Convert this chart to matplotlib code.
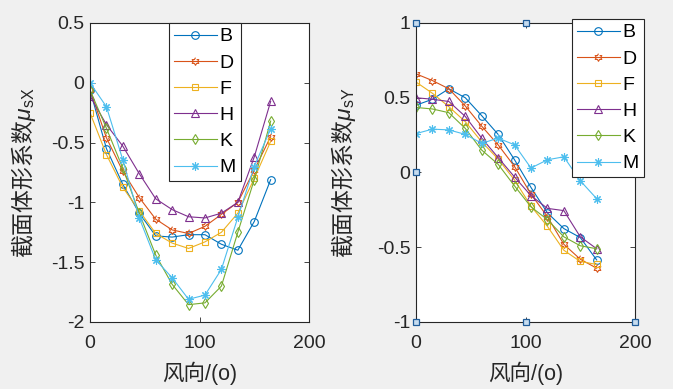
import matplotlib
matplotlib.use('Agg')
import matplotlib.pyplot as plt
import numpy as np

plt.rcParams['font.family'] = ['Liberation Sans', 'Noto Sans CJK SC']
plt.rcParams['mathtext.fontset'] = 'custom'
plt.rcParams['mathtext.rm'] = 'Noto Sans CJK SC'
plt.rcParams['mathtext.sf'] = 'Liberation Sans'
plt.rcParams['mathtext.it'] = 'Liberation Sans:italic'

# wind direction (deg)
angles = [0, 15, 30, 45, 60, 75, 90, 105, 120, 135, 150, 165]
names = ['B', 'D', 'F', 'H', 'K', 'M']

mu_x = {
    'B': [-0.06, -0.55, -0.85, -1.09, -1.28, -1.29, -1.27, -1.27, -1.35, -1.40, -1.16, -0.81],
    'D': [-0.06, -0.46, -0.74, -0.96, -1.14, -1.23, -1.26, -1.20, -1.10, -1.00, -0.73, -0.45],
    'F': [-0.25, -0.60, -0.875, -1.07, -1.26, -1.34, -1.385, -1.33, -1.25, -1.09, -0.80, -0.49],
    'H': [-0.11, -0.35, -0.53, -0.76, -0.97, -1.06, -1.12, -1.13, -1.09, -1.00, -0.62, -0.155],
    'K': [-0.06, -0.38, -0.715, -1.09, -1.44, -1.685, -1.855, -1.84, -1.70, -1.25, -0.81, -0.32],
    'M': [0.00, -0.20, -0.645, -1.13, -1.48, -1.63, -1.81, -1.775, -1.56, -1.125, -0.70, -0.385],
}
mu_y = {
    'B': [0.45, 0.49, 0.56, 0.50, 0.38, 0.255, 0.085, -0.10, -0.27, -0.375, -0.435, -0.585],
    'D': [0.66, 0.615, 0.56, 0.445, 0.31, 0.185, 0.04, -0.145, -0.295, -0.48, -0.58, -0.64],
    'F': [0.605, 0.53, 0.44, 0.34, 0.205, 0.09, -0.05, -0.225, -0.36, -0.52, -0.595, -0.615],
    'H': [0.50, 0.49, 0.475, 0.375, 0.23, 0.10, -0.03, -0.155, -0.24, -0.255, -0.43, -0.51],
    'K': [0.435, 0.425, 0.40, 0.295, 0.15, 0.055, -0.09, -0.23, -0.315, -0.43, -0.49, -0.51],
    'M': [0.26, 0.29, 0.285, 0.255, 0.195, 0.23, 0.185, 0.03, 0.085, 0.105, -0.055, -0.175],
}

# MATLAB-like hexagram marker
t = np.pi / 2 + np.arange(12) * np.pi / 6
r = np.where(np.arange(12) % 2 == 0, 1.0, 0.58)
hexagram = list(zip(r * np.cos(t), r * np.sin(t)))

colors = ['#0072BD', '#D95319', '#EDB120', '#7E2F8E', '#77AC30', '#4DBEEE']
markers = ['o', hexagram, 's', '^', 'd', (8, 2, 0)]
msizes = [5.5, 5.5, 4.2, 6, 5.2, 6]

BG = '#f0f0f0'
DARK = '#262626'

fig = plt.figure(figsize=(6.73, 3.89), dpi=100)
fig.patch.set_facecolor(BG)

ax1 = fig.add_axes([90/673, 1 - 322/389, 219/673, 299/389])
ax2 = fig.add_axes([416/673, 1 - 322/389, 219/673, 299/389])


def style(ax, yticks, ylim):
    ax.set_facecolor('white')
    ax.set_xlim(0, 200)
    ax.set_ylim(*ylim)
    ax.set_xticks([0, 100, 200])
    ax.set_yticks(yticks)
    ax.set_yticklabels([f'{t:g}' for t in yticks])
    ax.tick_params(direction='in', length=3.5, width=0.6, colors=DARK,
                   labelsize=14, top=True, right=True)
    ax.tick_params(axis='x', pad=9)
    ax.tick_params(axis='y', pad=4)
    for s in ax.spines.values():
        s.set_color(DARK)
        s.set_linewidth(0.8)


for ax, data in ((ax1, mu_x), (ax2, mu_y)):
    for n, c, m, ms in zip(names, colors, markers, msizes):
        ax.plot(angles, data[n], color=c, marker=m, markersize=ms,
                markerfacecolor='none', markeredgecolor=c,
                markeredgewidth=0.8, linewidth=0.8, label=n)

style(ax1, [-2, -1.5, -1, -0.5, 0, 0.5], (-2, 0.5))
style(ax2, [-1, -0.5, 0, 0.5, 1], (-1, 1))

for ax in (ax1, ax2):
    ax.set_xlabel('风向/(o)', fontsize=15.5, color=DARK, labelpad=7)
ax1.set_ylabel('截面体形系数$\\mu_{\\mathsf{sX}}$', fontsize=16.5, color=DARK,
               family='Noto Sans CJK SC')
ax2.set_ylabel('截面体形系数$\\mu_{\\mathsf{sY}}$', fontsize=16.5, color=DARK,
               family='Noto Sans CJK SC')
ax1.yaxis.set_label_coords(-(90 - 38) / 219, 0.5)
ax2.yaxis.set_label_coords(-(416 - 358) / 219, 0.5)

# selection handles on the right axes (MATLAB edit mode)
hx = [0, 0.5, 1, 0, 1, 0, 0.5, 1]
hy = [1, 1, 1, 0.5, 0.5, 0, 0, 0]
ax2.plot(hx, hy, linestyle='none', marker='s', markersize=5,
         markerfacecolor='#c6dcef', markeredgecolor='#1f5c99',
         markeredgewidth=0.9, transform=ax2.transAxes, clip_on=False, zorder=4)

leg_kw = dict(fontsize=14, handlelength=2.2, handletextpad=0.15,
              labelspacing=0.44, borderpad=0.25, borderaxespad=0,
              fancybox=False, framealpha=1, edgecolor=DARK,
              bbox_transform=fig.transFigure, loc='upper left')
l1 = ax1.legend(bbox_to_anchor=(169/673, 1 - 23/389), **leg_kw)
l2 = ax2.legend(bbox_to_anchor=(572/673, 1 - 19/389), **leg_kw)
for lg in (l1, l2):
    lg.get_frame().set_linewidth(0.8)
    lg.set_zorder(10)

fig.savefig('out.png', dpi=100, facecolor=fig.get_facecolor())
